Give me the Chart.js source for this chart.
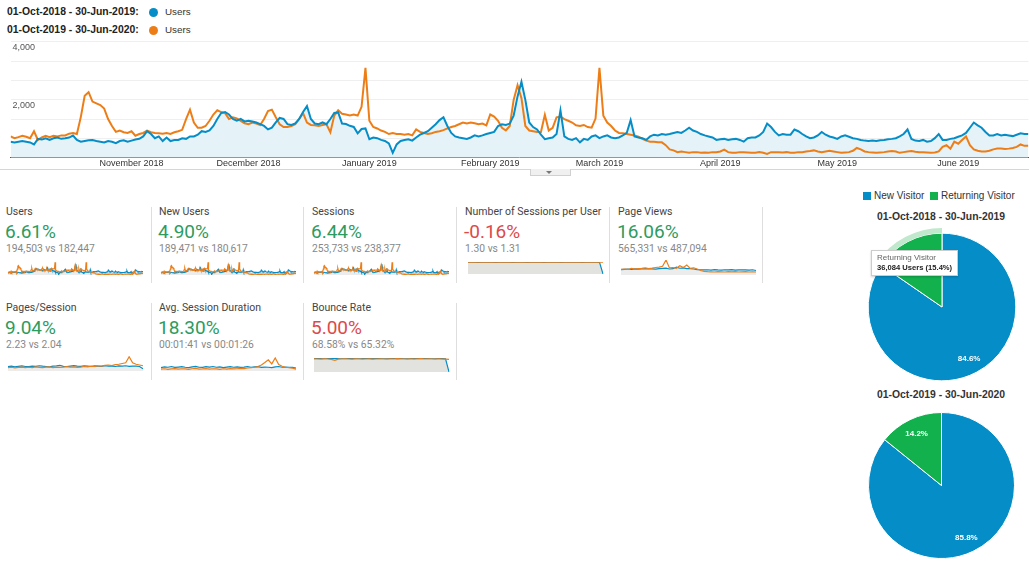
<!DOCTYPE html>
<html>
<head>
<meta charset="utf-8">
<script src="https://cdn.jsdelivr.net/npm/chart.js@4.4.1/dist/chart.umd.min.js"></script>
<style>
  body { margin: 0; width: 1029px; height: 562px; overflow: hidden; background: #fff; position: relative; font-family: Roboto, "Liberation Sans", Arial, sans-serif; color: #333; }
  .abs { position: absolute; white-space: nowrap; }
  .range { font: bold 10.4px "Liberation Sans", Arial, sans-serif; color: #222; line-height: 12px; }
  .ser { font: 9.8px "Liberation Sans", Arial, sans-serif; color: #333; line-height: 12px; }
  .dot { width: 9px; height: 9px; border-radius: 50%; }
  .ttl { font-size: 10.5px; color: #444; line-height: 12px; }
  .pct { font-size: 19px; line-height: 22px; }
  .cmp { font-size: 10.3px; color: #888; line-height: 12px; }
  .vdiv { width: 1px; background: #dedede; }
  .sq { width: 8px; height: 8px; }
  .ptitle { font: bold 10.4px "Liberation Sans", Arial, sans-serif; color: #333; width: 160px; text-align: center; line-height: 12px; }
  .tip { background: #fff; border: 1px solid #ccc; box-shadow: 0 1px 2px rgba(0,0,0,0.2); padding: 2px 5px; font-family: "Liberation Sans", Arial, sans-serif; }
</style>
</head>
<body>

<div class="abs range" style="left:7px;top:6px">01-Oct-2018 - 30-Jun-2019:</div>
<div class="abs dot" style="left:149px;top:8px;background:#058dc7"></div>
<div class="abs ser" style="left:165px;top:6px">Users</div>
<div class="abs range" style="left:7px;top:24px">01-Oct-2019 - 30-Jun-2020:</div>
<div class="abs dot" style="left:149px;top:26px;background:#ed7e17"></div>
<div class="abs ser" style="left:165px;top:24px">Users</div>

<div class="abs" style="left:0;top:30px;width:1029px;height:141px"><canvas id="main"></canvas></div>
<div class="abs" style="left:0;top:169px;width:1029px;height:1px;background:#d6d6d6"></div>
<div class="abs" style="left:530px;top:169px;width:39px;height:6px;background:#f0f0f0;border:1px solid #d0d0d0;border-top:none"></div>
<div class="abs" style="left:546px;top:171px;width:0;height:0;border-left:3px solid transparent;border-right:3px solid transparent;border-top:3px solid #777"></div>

<div id="tiles"></div>

<div class="abs sq" style="left:863px;top:192px;background:#058dc7"></div>
<div class="abs ser" style="left:874px;top:190px;font-size:10px">New Visitor</div>
<div class="abs sq" style="left:930px;top:192px;background:#13b14e"></div>
<div class="abs ser" style="left:941px;top:190px;font-size:10px">Returning Visitor</div>

<div class="abs ptitle" style="left:861px;top:211px">01-Oct-2018 - 30-Jun-2019</div>
<div class="abs" style="left:861.5px;top:226.5px;width:160px;height:160px"><canvas id="pie1"></canvas></div>
<div class="abs ptitle" style="left:861px;top:389px">01-Oct-2019 - 30-Jun-2020</div>
<div class="abs" style="left:867px;top:410.5px;width:149px;height:149px"><canvas id="pie2"></canvas></div>

<div class="abs tip" style="left:871px;top:250px">
  <div style="font-size:8px;color:#666;line-height:10px">Returning Visitor</div>
  <div style="font-size:7.6px;color:#222;font-weight:bold;line-height:10px">36,084 Users (15.4%)</div>
</div>

<script>
// Users per day, 01-Oct-2018 onward (visible part of the chart)
var usersBlue = [
  550,525,550,575,550,525,455,650,625,670,
  610,670,695,650,670,695,765,610,550,575,
  600,610,575,550,525,575,550,500,575,600,
  550,590,625,650,735,915,815,670,735,575,
  695,575,610,610,670,650,735,735,795,915,
  890,940,1095,1335,1540,1575,1490,1335,1275,1335,
  1250,1275,1250,1215,1155,1095,975,1035,1215,1370,
  1335,1155,1130,1180,1335,1575,1780,1335,1180,1155,
  1215,1155,1335,1540,1560,1180,1160,1100,1060,840,
  990,1010,637,697,673,613,577,493,168,457,
  577,613,637,589,697,793,853,913,1033,1153,
  1297,1393,1093,853,733,697,673,649,697,769,
  733,769,817,853,889,1093,1153,1129,1177,1453,
  2114,2619,1994,1213,1057,973,793,637,673,697,
  817,1633,733,649,613,673,529,649,613,733,
  769,673,733,769,697,673,697,769,853,1297,
  733,697,673,613,733,793,769,817,793,817,
  853,889,853,937,1033,937,889,817,769,733,
  697,613,637,649,613,637,649,613,553,673,
  697,697,769,889,1177,1057,889,769,817,793,
  793,973,913,817,733,673,697,769,889,793,
  733,697,649,733,769,721,673,649,613,589,
  577,589,577,601,613,637,649,673,733,817,
  973,649,589,577,613,553,577,673,817,613,
  613,649,673,721,769,853,1033,1213,1117,1033,
  889,769,769,817,769,793,769,745,793,841,
  817,817
];
var usersOrange = [
  733,673,709,757,721,673,913,613,697,757,
  709,757,733,769,769,829,853,817,1400,2138,
  2259,1934,1874,1814,1694,1333,1093,889,937,877,
  853,913,757,817,853,937,877,853,841,829,
  853,817,877,913,961,1333,1658,1213,1033,1033,
  1093,1273,1490,1634,1573,1538,1333,1393,1357,1273,
  1189,1153,1213,1177,1129,1333,1610,1658,1393,1153,
  1057,1057,1093,1153,1333,1538,1213,1129,1117,1093,
  1129,1153,877,1453,1634,1514,1490,1453,1489,1453,
  1754,3099,1273,1057,1009,937,889,817,853,817,
  817,793,817,769,973,889,853,817,841,889,
  913,949,1009,1057,1093,1153,1213,1177,1213,1189,
  1153,1177,1117,1489,1417,1273,1033,937,1093,1994,
  2500,2054,1093,937,913,889,889,1477,937,1033,
  1393,1417,1333,1273,1213,1117,1093,1129,1057,1033,
  1350,3099,1450,1213,1093,937,853,841,817,793,
  769,721,649,589,553,553,529,529,433,288,
  252,192,216,192,168,192,192,168,180,168,
  192,192,216,276,192,168,168,192,192,180,
  168,168,192,168,132,192,192,192,180,192,
  168,168,192,192,216,228,252,216,192,216,
  240,216,192,168,180,192,240,336,288,216,
  192,180,168,180,192,216,228,216,168,192,
  216,228,204,192,192,180,168,180,216,373,
  433,313,553,481,613,733,433,288,240,216,
  216,240,288,313,313,301,313,337,373,457,
  409,409
];

// month ticks: day index from 01-Oct-2018
var monthStartDays = [31, 61, 92, 123, 151, 182, 212, 243];
var monthLabels = ["November 2018", "December 2018", "January 2019", "February 2019", "March 2019", "April 2019", "May 2019", "June 2019"];
var yGridValues = [0, 666.67, 1333.33, 2000, 2666.67, 3333.33, 4000];
var yTickLabels = { 2000: "2,000", 4000: "4,000" };

// metric tiles
var tileTitles = ["Users", "New Users", "Sessions", "Number of Sessions per User", "Page Views", "Pages/Session", "Avg. Session Duration", "Bounce Rate"];
var tileChanges = ["6.61%", "4.90%", "6.44%", "-0.16%", "16.06%", "9.04%", "18.30%", "5.00%"];
var tileCompare = ["194,503 vs 182,447", "189,471 vs 180,617", "253,733 vs 238,377", "1.30 vs 1.31", "565,331 vs 487,094", "2.23 vs 2.04", "00:01:41 vs 00:01:26", "68.58% vs 65.32%"];
var tileUp = [true, true, true, false, true, true, true, false];

// sparkline series (coarse, ~weekly)
var spuBlue = [1.30,1.31,1.30,1.29,1.30,1.31,1.30,1.30,1.29,1.30,1.31,1.30,1.30,1.29,1.30,1.31,1.30,1.29,1.30,1.30,1.31,1.30,1.29,1.30,1.30,1.31,1.30,1.29,1.30,1.30,1.31,1.30,1.30,1.29,1.30,1.31,1.30,1.30,1.29,0];
var spuOrange = [1.31,1.32,1.31,1.30,1.31,1.32,1.31,1.31,1.30,1.31,1.32,1.31,1.31,1.30,1.31,1.32,1.31,1.30,1.31,1.31,1.32,1.31,1.30,1.31,1.31,1.32,1.31,1.30,1.31,1.31,1.32,1.31,1.31,1.30,1.31,1.32,1.31,1.31,1.30,1.31];
var pvBlue = [36,38,40,38,41,39,40,42,40,41,39,42,44,46,40,42,52,45,48,42,43,40,36,35,34,35,33,36,34,33,35,34,36,33,34,35,34,33,35,30];
var pvOrange = [38,40,37,45,40,42,44,48,43,46,50,52,58,100,47,50,45,62,50,66,44,48,40,30,24,22,21,20,22,21,20,22,21,23,20,21,22,20,21,20];
var psBlue = [2.20,2.22,2.18,2.21,2.24,2.20,2.19,2.23,2.21,2.25,2.22,2.20,2.18,2.22,2.24,2.28,2.21,2.20,2.23,2.26,2.22,2.21,2.25,2.23,2.20,2.24,2.22,2.21,2.26,2.23,2.22,2.20,2.24,2.22,2.25,2.21,2.23,2.22,2.20,2.05];
var psOrange = [2.12,2.15,2.11,2.14,2.16,2.12,2.15,2.13,2.17,2.14,2.12,2.16,2.18,2.13,2.15,2.14,2.16,2.19,2.15,2.17,2.14,2.16,2.20,2.18,2.22,2.20,2.25,2.22,2.28,2.30,2.26,2.32,2.35,2.40,2.45,2.85,2.45,2.35,2.30,2.25];
var asdBlue = [98,102,100,104,99,101,103,100,98,102,105,100,99,103,101,104,100,102,98,101,103,100,102,99,101,104,100,102,103,99,101,100,98,102,104,100,101,99,100,96];
var asdOrange = [90,92,89,91,93,90,92,91,89,92,94,90,91,93,90,92,91,89,92,90,93,91,92,94,93,96,98,100,104,112,125,140,118,150,115,105,100,98,95,90];
var brBlue = [68,69,68,70,68,67,69,68,70,69,68,67,69,70,68,69,68,67,69,68,70,69,68,69,67,68,69,70,68,67,69,68,69,68,70,69,68,67,66,0];
var brOrange = [66,65,64,66,65,63,58,64,65,66,65,64,66,65,64,65,66,64,65,66,65,64,66,65,67,66,65,64,66,65,66,67,65,66,65,64,66,65,64,63];

// visitor split (percent)
var visitorLabels = ["New Visitor", "Returning Visitor"];
var visitors2018 = [84.6, 15.4];
var visitors2019 = [85.8, 14.2];

var BLUE = "#058dc7", ORANGE = "#ed7e17", GREEN = "#13b14e";
Chart.defaults.font.family = '"Liberation Sans", Arial, sans-serif';
Chart.defaults.animation = false;

// main line chart
new Chart("main", {
  type: "line",
  data: {
    datasets: [{
      label: "01-Oct-2018 - 30-Jun-2019",
      data: usersBlue.map(function (v, i) { return { x: i, y: v }; }),
      borderColor: BLUE,
      backgroundColor: "#e5f2f8",
      fill: "origin",
      borderWidth: 2,
      pointRadius: 0
    }, {
      label: "01-Oct-2019 - 30-Jun-2020",
      data: usersOrange.map(function (v, i) { return { x: i, y: v }; }),
      borderColor: ORANGE,
      fill: false,
      borderWidth: 2,
      pointRadius: 0
    }]
  },
  options: {
    responsive: true,
    maintainAspectRatio: false,
    layout: { padding: { left: 6.6, right: 0.6, top: 11.7, bottom: 2.5 } },
    plugins: {
      legend: { display: false },
      tooltip: { enabled: false },
      filler: { drawTime: "beforeDatasetsDraw" }
    },
    scales: {
      x: {
        type: "linear",
        min: 0,
        max: 261,
        grid: { display: false, drawTicks: false },
        border: { display: true, color: "#555", width: 1 },
        afterBuildTicks: function (s) { s.ticks = monthStartDays.map(function (v) { return { value: v }; }); },
        ticks: {
          autoSkip: false, maxRotation: 0, padding: 0, color: "#333", font: { size: 9 },
          callback: function (v) { return monthLabels[monthStartDays.indexOf(v)]; }
        }
      },
      y: {
        min: 0,
        max: 4000,
        grid: { color: "#efefef", drawTicks: false },
        border: { display: false },
        afterBuildTicks: function (s) { s.ticks = yGridValues.map(function (v) { return { value: v }; }); },
        ticks: {
          mirror: true, padding: 2, labelOffset: 6, color: "#555", font: { size: 9 },
          callback: function (v) { return yTickLabels[Math.round(v)] || ""; }
        }
      }
    }
  }
});

// tiles
var tiles = document.getElementById("tiles");
var rowY = [212, 308];
var sparkBoxes = [
  { top: 261, h: 15 }, { top: 261, h: 15 }, { top: 261, h: 15 }, { top: 261, h: 14 }, { top: 259, h: 17 },
  { top: 355, h: 17 }, { top: 355, h: 17 }, { top: 357, h: 16 }
];
tileTitles.forEach(function (t, i) {
  var row = i < 5 ? 0 : 1, col = i < 5 ? i : i - 5;
  var x = 6 + col * 153, cy = rowY[row];
  var html = '<div class="abs ttl" style="left:' + x + 'px;top:' + (cy - 6) + 'px">' + t + '</div>' +
    '<div class="abs pct" style="left:' + (x - 1) + 'px;top:' + (cy + 9) + 'px;color:' + (tileUp[i] ? "#2e9b5e" : "#dc4a4a") + '">' + tileChanges[i] + '</div>' +
    '<div class="abs cmp" style="left:' + x + 'px;top:' + (cy + 31) + 'px">' + tileCompare[i] + '</div>' +
    '<div class="abs" style="left:' + (7 + col * 153.2) + 'px;top:' + sparkBoxes[i].top + 'px;width:137px;height:' + sparkBoxes[i].h + 'px"><canvas id="sp' + i + '"></canvas></div>';
  tiles.insertAdjacentHTML("beforeend", html);
});
[151, 303, 456, 609, 762].forEach(function (x) {
  tiles.insertAdjacentHTML("beforeend", '<div class="abs vdiv" style="left:' + x + 'px;top:207px;height:76px"></div>');
});
[151, 303, 456].forEach(function (x) {
  tiles.insertAdjacentHTML("beforeend", '<div class="abs vdiv" style="left:' + x + 'px;top:303px;height:77px"></div>');
});

function spark(id, blue, orange, lo, hi, fillColor) {
  new Chart(id, {
    type: "line",
    data: {
      labels: blue.map(function (_, i) { return i; }),
      datasets: [
        { data: orange, borderColor: ORANGE, borderWidth: 1.2, pointRadius: 0, fill: false },
        { data: blue, borderColor: BLUE, borderWidth: 1.2, pointRadius: 0, fill: "start", backgroundColor: fillColor }
      ]
    },
    options: {
      responsive: true,
      maintainAspectRatio: false,
      layout: { padding: 1 },
      plugins: { legend: { display: false }, tooltip: { enabled: false }, filler: { drawTime: "beforeDatasetsDraw" } },
      scales: { x: { display: false }, y: { display: false, min: lo, max: hi } }
    }
  });
}
spark("sp0", usersBlue, usersOrange, 0, 3150, "#ececec");
spark("sp1", usersBlue, usersOrange, 0, 3150, "#ececec");
spark("sp2", usersBlue, usersOrange, 0, 3150, "#ececec");
spark("sp3", spuBlue, spuOrange, 0, 1.33, "#e2e2de");
spark("sp4", pvBlue, pvOrange, 0, 100, "#ececec");
spark("sp5", psBlue, psOrange, 1.9, 2.9, "#ececec");
spark("sp6", asdBlue, asdOrange, 80, 160, "#ececec");
spark("sp7", brBlue, brOrange, 0, 70, "#e2e2de");

// pies
var sliceLabels = {
  id: "sliceLabels",
  afterDatasetsDraw: function (chart) {
    var ctx = chart.ctx;
    var di = chart.data.datasets.length - 1;
    var vals = chart.data.datasets[di].data;
    chart.getDatasetMeta(di).data.forEach(function (arc, i) {
      var p = arc.getProps(["x", "y", "startAngle", "endAngle", "outerRadius"], true);
      var mid = (p.startAngle + p.endAngle) / 2;
      var r = p.outerRadius * 0.79;
      ctx.save();
      ctx.fillStyle = "#fff";
      ctx.font = 'bold 8px "Liberation Sans", Arial, sans-serif';
      ctx.textAlign = "center";
      ctx.textBaseline = "middle";
      ctx.fillText(vals[i].toFixed(1) + "%", p.x + r * Math.cos(mid), p.y + r * Math.sin(mid));
      ctx.restore();
    });
  }
};

function pie(id, values, highlight) {
  var sets = [];
  if (highlight) {
    sets.push({ data: values, backgroundColor: ["rgba(0,0,0,0)", "#bfe8cc"], borderWidth: 0, weight: 0.07 });
  }
  sets.push({ data: values, backgroundColor: [BLUE, GREEN], borderColor: "#fff", borderWidth: 1, weight: 1 });
  new Chart(id, {
    type: "pie",
    data: { labels: visitorLabels, datasets: sets },
    options: {
      responsive: true,
      maintainAspectRatio: false,
      layout: { padding: 1 },
      plugins: { legend: { display: false }, tooltip: { enabled: false } }
    },
    plugins: [sliceLabels]
  });
}
pie("pie1", visitors2018, true);
pie("pie2", visitors2019, false);
</script>
</body>
</html>
